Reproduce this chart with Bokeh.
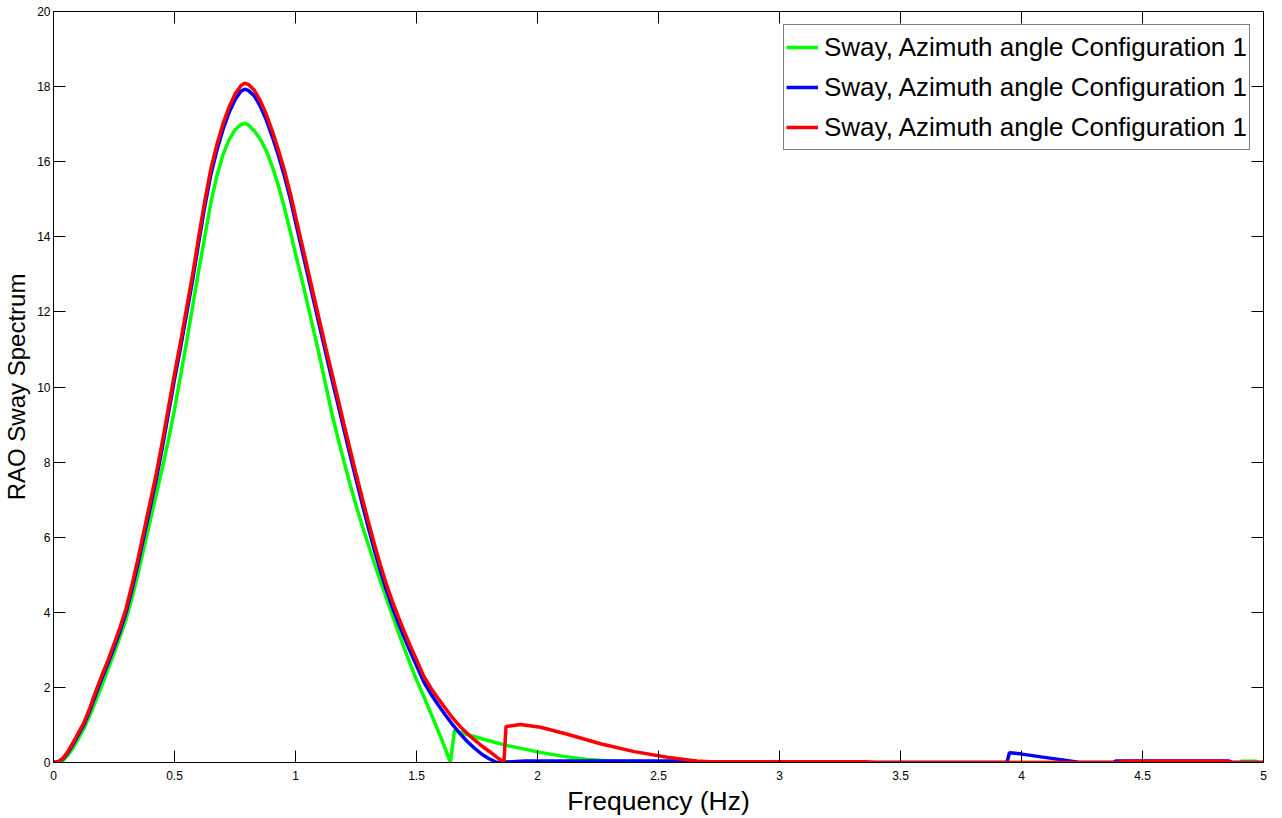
from bokeh.plotting import figure
from bokeh.models import Legend, LegendItem, LinearAxis, FixedTicker
from bokeh.embed import file_html
from bokeh.resources import INLINE

# ---------------- data ----------------
red_x = [0.00, 0.02, 0.04, 0.06, 0.08, 0.10, 0.125, 0.15, 0.175, 0.20, 0.225, 0.25, 0.275, 0.30,
         0.325, 0.35, 0.375, 0.40, 0.425, 0.45, 0.475, 0.50, 0.525, 0.55, 0.575, 0.60, 0.625, 0.65,
         0.675, 0.70, 0.725, 0.75, 0.775, 0.79, 0.805, 0.83, 0.855, 0.88, 0.905, 0.93, 0.955, 0.98,
         1.00, 1.025, 1.05, 1.075, 1.10, 1.125, 1.15, 1.175, 1.20, 1.225, 1.25, 1.275, 1.30, 1.325,
         1.35, 1.375, 1.40, 1.425, 1.45, 1.475, 1.50, 1.53, 1.56, 1.59, 1.62, 1.65, 1.68, 1.71,
         1.74, 1.77, 1.80, 1.83, 1.861, 1.87, 1.93, 2.012, 2.12, 2.26, 2.40, 2.536, 2.67, 2.72,
         3.35, 3.40, 4.40, 4.42, 4.85, 4.87, 5.00]
red_y = [0.00, 0.02, 0.12, 0.30, 0.52, 0.76, 1.05, 1.45, 1.90, 2.32, 2.72, 3.15, 3.60, 4.10,
         4.75, 5.45, 6.20, 6.95, 7.70, 8.55, 9.45, 10.35, 11.20, 12.10, 13.00, 14.00, 14.95, 15.80,
         16.45, 17.00, 17.45, 17.80, 18.03, 18.09, 18.06, 17.90, 17.62, 17.25, 16.80, 16.30, 15.75, 15.12,
         14.55, 13.85, 13.15, 12.45, 11.75, 11.05, 10.38, 9.70, 9.02, 8.36, 7.70, 7.06, 6.44, 5.84,
         5.28, 4.76, 4.30, 3.88, 3.48, 3.10, 2.74, 2.30, 1.98, 1.70, 1.44, 1.18, 0.96, 0.77,
         0.60, 0.44, 0.30, 0.15, 0.00, 0.96, 1.01, 0.94, 0.76, 0.50, 0.29, 0.14, 0.03, 0.02,
         0.02, 0.00, 0.00, 0.03, 0.03, 0.00, 0.00]

blue_x = [0.00, 0.02, 0.04, 0.06, 0.08, 0.10, 0.125, 0.15, 0.175, 0.20, 0.225, 0.25, 0.275, 0.30,
          0.325, 0.35, 0.375, 0.40, 0.425, 0.45, 0.475, 0.50, 0.525, 0.55, 0.575, 0.60, 0.625, 0.65,
          0.675, 0.70, 0.725, 0.75, 0.775, 0.79, 0.805, 0.83, 0.855, 0.88, 0.905, 0.93, 0.955, 0.98,
          1.00, 1.025, 1.05, 1.075, 1.10, 1.125, 1.15, 1.175, 1.20, 1.225, 1.25, 1.275, 1.30, 1.325,
          1.35, 1.375, 1.40, 1.425, 1.45, 1.475, 1.50, 1.53, 1.56, 1.59, 1.62, 1.65, 1.68, 1.71,
          1.74, 1.77, 1.80, 1.833, 1.95, 2.65, 2.67, 3.94, 3.95, 3.996, 4.08, 4.17, 4.22, 4.24,
          4.38, 4.39, 4.857, 4.87, 5.00]
blue_y = [0.00, 0.02, 0.10, 0.27, 0.48, 0.71, 1.00, 1.38, 1.82, 2.24, 2.64, 3.06, 3.50, 4.00,
          4.63, 5.32, 6.06, 6.80, 7.55, 8.40, 9.30, 10.20, 11.05, 11.95, 12.85, 13.85, 14.80, 15.65,
          16.30, 16.85, 17.30, 17.65, 17.88, 17.93, 17.90, 17.75, 17.47, 17.10, 16.65, 16.15, 15.60, 14.97,
          14.40, 13.70, 13.00, 12.30, 11.60, 10.90, 10.22, 9.55, 8.87, 8.20, 7.55, 6.90, 6.28, 5.68,
          5.12, 4.60, 4.14, 3.72, 3.32, 2.94, 2.58, 2.15, 1.82, 1.53, 1.26, 1.00, 0.77, 0.56,
          0.38, 0.22, 0.10, 0.00, 0.04, 0.04, 0.00, 0.00, 0.26, 0.23, 0.15, 0.07, 0.02, 0.00,
          0.00, 0.04, 0.04, 0.00, 0.00]

green_x = [0.00, 0.02, 0.04, 0.06, 0.08, 0.10, 0.125, 0.15, 0.175, 0.20, 0.225, 0.25, 0.275, 0.30,
           0.325, 0.35, 0.375, 0.40, 0.425, 0.45, 0.475, 0.50, 0.525, 0.55, 0.575, 0.60, 0.625, 0.65,
           0.675, 0.70, 0.725, 0.75, 0.775, 0.79, 0.805, 0.83, 0.855, 0.88, 0.905, 0.93, 0.955, 0.98,
           1.00, 1.025, 1.05, 1.075, 1.10, 1.125, 1.15, 1.175, 1.20, 1.225, 1.25, 1.275, 1.30, 1.325,
           1.35, 1.375, 1.40, 1.425, 1.45, 1.475, 1.50, 1.53, 1.56, 1.60, 1.62, 1.64, 1.657, 1.723,
           1.80, 1.875, 2.012, 2.10, 2.205, 2.30, 2.50, 2.90, 2.92, 4.90, 4.91, 4.97, 4.98, 5.00]
green_y = [0.00, 0.00, 0.06, 0.20, 0.38, 0.60, 0.90, 1.25, 1.65, 2.05, 2.48, 2.90, 3.35, 3.82,
           4.40, 5.05, 5.75, 6.45, 7.15, 7.85, 8.60, 9.40, 10.30, 11.20, 12.15, 13.10, 14.00, 14.90,
           15.62, 16.18, 16.58, 16.85, 16.99, 17.02, 16.98, 16.82, 16.60, 16.28, 15.85, 15.35, 14.75, 14.10,
           13.55, 12.90, 12.20, 11.50, 10.80, 10.05, 9.30, 8.65, 8.02, 7.42, 6.85, 6.32, 5.82, 5.32,
           4.84, 4.38, 3.93, 3.47, 3.03, 2.61, 2.20, 1.76, 1.30, 0.68, 0.35, 0.00, 0.85, 0.72,
           0.58, 0.45, 0.27, 0.17, 0.08, 0.04, 0.02, 0.02, 0.00, 0.00, 0.03, 0.03, 0.00, 0.00]

x_ticks = [0, 0.5, 1, 1.5, 2, 2.5, 3, 3.5, 4, 4.5, 5]
x_tick_labels = ["0", "0.5", "1", "1.5", "2", "2.5", "3", "3.5", "4", "4.5", "5"]
y_ticks = [0, 2, 4, 6, 8, 10, 12, 14, 16, 18, 20]
y_tick_labels = ["0", "2", "4", "6", "8", "10", "12", "14", "16", "18", "20"]

series_label = "Sway, Azimuth angle Configuration 1"
x_title = "Frequency (Hz)"
y_title = "RAO Sway Spectrum"

# ---------------- figure ----------------
FONT = "'Liberation Sans', Arial, Helvetica, sans-serif"

p = figure(frame_width=1210, frame_height=751, x_range=(0, 5), y_range=(0, 20),
           output_backend="svg", toolbar_location=None,
           min_border_left=53, min_border_right=19, min_border_top=11, min_border_bottom=56)
p.background_fill_color = "white"
p.border_fill_color = "white"
p.outline_line_color = "black"
p.outline_line_width = 1
p.grid.visible = False

r_g = p.line(green_x, green_y, line_color="#00ff00", line_width=3.5)
r_b = p.line(blue_x, blue_y, line_color="#0000ff", line_width=3.5)
r_r = p.line(red_x, red_y, line_color="#ff0000", line_width=3.5)

def style_axis(ax, ticks, labels, show_labels=True):
    ax.ticker = FixedTicker(ticks=ticks)
    ax.major_tick_in = 12
    ax.major_tick_out = 0
    ax.major_tick_line_color = "black"
    ax.minor_tick_line_color = None
    ax.axis_line_color = "black"
    ax.axis_line_width = 1
    if show_labels:
        ax.major_label_overrides = {t: l for t, l in zip(ticks, labels)}
        ax.major_label_text_font = FONT
        ax.major_label_text_color = "black"
        ax.major_label_text_font_size = "12px"
    else:
        # tick marks only (MATLAB box style); labels are not drawn at all
        ax.major_label_text_color = None
        ax.major_label_text_alpha = 0
        ax.major_label_text_font_size = "0px"
        ax.major_label_standoff = 0

xa = p.xaxis[0]
ya = p.yaxis[0]
style_axis(xa, x_ticks, x_tick_labels)
style_axis(ya, y_ticks, y_tick_labels)
xa.major_label_standoff = 8
ya.major_label_standoff = 3

xa.axis_label = x_title
xa.axis_label_text_font = FONT
xa.axis_label_text_font_size = "26.5px"
xa.axis_label_text_font_style = "normal"
xa.axis_label_text_color = "black"
xa.axis_label_standoff = 3

ya.axis_label = y_title
ya.axis_label_text_font = FONT
ya.axis_label_text_font_size = "24px"
ya.axis_label_text_font_style = "normal"
ya.axis_label_text_color = "black"
ya.axis_label_standoff = 4

top_ax = LinearAxis()
style_axis(top_ax, x_ticks, x_tick_labels, show_labels=False)
p.add_layout(top_ax, "above")
right_ax = LinearAxis()
style_axis(right_ax, y_ticks, y_tick_labels, show_labels=False)
p.add_layout(right_ax, "right")

legend = Legend(items=[LegendItem(label=series_label, renderers=[r_g]),
                       LegendItem(label=series_label, renderers=[r_b]),
                       LegendItem(label=series_label, renderers=[r_r])],
                location=(730, 612))
legend.margin = 0
legend.padding = 2
legend.spacing = 0
legend.glyph_width = 32
legend.glyph_height = 40
legend.label_height = 40
legend.label_standoff = 6
legend.label_text_font = FONT
legend.label_text_font_size = "26px"
legend.label_text_color = "black"
legend.border_line_color = "black"
legend.border_line_width = 1
legend.background_fill_color = "white"
legend.background_fill_alpha = 1
p.add_layout(legend, "center")

open("out.html", "w").write(file_html(p, INLINE))
